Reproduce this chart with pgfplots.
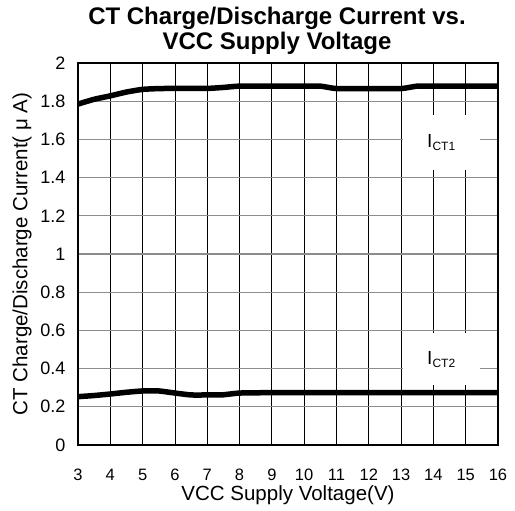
\documentclass[border=0pt]{standalone}
\usepackage{fontspec}
\setmainfont{Liberation Sans}
\usepackage{pgfplots}
\pgfplotsset{compat=1.18}

\begin{document}
\begin{tikzpicture}
\useasboundingbox (-78pt,-66pt) rectangle (437pt,445pt);
\begin{axis}[
    scale only axis,
    width=420pt, height=382pt,
    xmin=3, xmax=16, ymin=0, ymax=2,
    xtick={3,4,5,6,7,8,9,10,11,12,13,14,15,16},
    ytick={0,0.2,0.4,0.6,0.8,1,1.2,1.4,1.6,1.8,2},
    grid=major,
    every axis x grid/.style={draw=black, line width=0.8pt},
    every axis y grid/.style={draw=gray!90, line width=1.2pt},
    major tick length=0pt,
    axis line style={line width=2pt},
    /pgf/number format/assume math mode=true,
    xticklabel style={font=\fontsize{16.5}{18}\selectfont, anchor=base, inner sep=0pt, yshift=-36pt},
    yticklabel style={font=\fontsize{18}{20}\selectfont, xshift=-9pt},
    title={CT Charge/Discharge Current vs.\\VCC Supply Voltage},
    title style={font=\bfseries\fontsize{24}{25}\selectfont, align=center,
                 at={(axis description cs:0.5,1)}, anchor=south, xshift=-11pt, yshift=-1pt},
    xlabel={VCC Supply Voltage(V)},
    ylabel={CT Charge/Discharge Current( μ A)},
    label style={font=\fontsize{20.5}{22}\selectfont},
    xlabel style={at={(axis description cs:0.5,0)}, anchor=base, inner sep=0pt, yshift=-56pt},
    ylabel style={at={(axis description cs:-0.1333,0.5)}, anchor=center},
]
\node[fill=white, inner sep=0pt, minimum width=77pt, minimum height=55pt,
      font=\fontsize{19}{20}\selectfont] at (axis cs:14.25,1.584)
      {I\textsubscript{\fontsize{12}{13}\selectfont CT1}};
\node[fill=white, inner sep=0pt, minimum width=77pt, minimum height=52pt,
      font=\fontsize{19}{20}\selectfont] at (axis cs:14.25,0.448)
      {I\textsubscript{\fontsize{12}{13}\selectfont CT2}};
\addplot[black, line width=5.5pt, smooth, tension=0.3] coordinates {
(3,1.785) (3.5,1.81) (4,1.828) (4.5,1.848) (5,1.862) (5.5,1.866) (6,1.867) (7,1.867) (7.5,1.872) (8,1.879) (9,1.879) (10,1.879) (10.5,1.879) (11,1.866) (12,1.866) (13,1.866) (13.5,1.879) (14,1.879) (15,1.879) (16,1.879)
};
\addplot[black, line width=5.5pt, smooth, tension=0.3] coordinates {
(3,0.253) (3.5,0.259) (4,0.267) (4.5,0.276) (5,0.283) (5.5,0.283) (6,0.272) (6.5,0.262) (7,0.262) (7.5,0.263) (8,0.272) (9,0.274) (10,0.274) (11,0.274) (12,0.274) (13,0.274) (14,0.274) (15,0.274) (16,0.274)
};
\end{axis}
\end{tikzpicture}
\end{document}
